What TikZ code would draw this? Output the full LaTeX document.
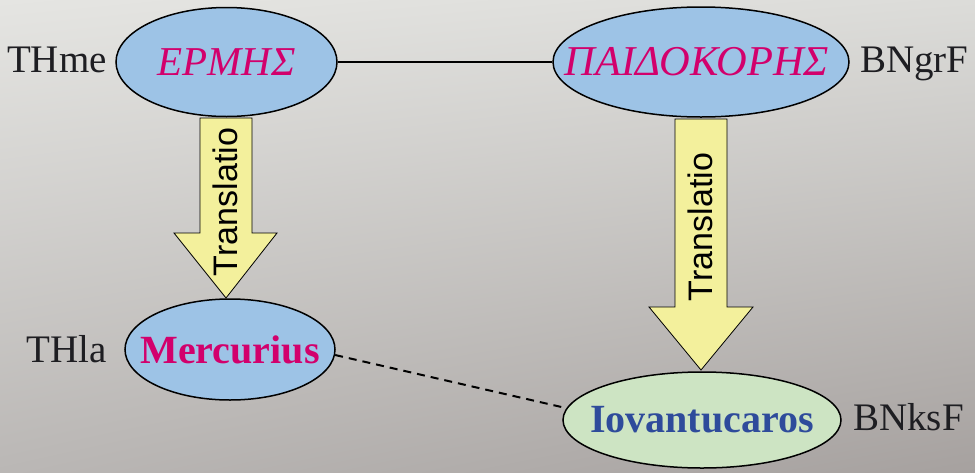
\documentclass[tikz,border=0pt]{standalone}
\usepackage{fontspec}
\setmainfont{Liberation Serif}
\newfontfamily\arrowsans{Liberation Sans}
\usetikzlibrary{shapes.geometric,shadings}
\definecolor{bgUL}{RGB}{229,229,226}
\definecolor{bgUR}{RGB}{220,220,217}
\definecolor{bgLL}{RGB}{186,183,181}
\definecolor{bgLR}{RGB}{166,161,159}
\definecolor{nameblue}{RGB}{157,195,230}
\definecolor{namegreen}{RGB}{205,228,195}
\definecolor{arrowfill}{RGB}{243,240,156}
\definecolor{greekmag}{RGB}{210,0,108}
\definecolor{latinblue}{RGB}{46,75,155}
\definecolor{labelgray}{RGB}{30,30,34}
% centred text that does not widen its ellipse
\newcommand{\inellipse}[1]{\makebox[0pt]{#1}}
\begin{document}
\begin{tikzpicture}[x=1pt,y=-1pt,
  namebox/.style={ellipse, draw=black, line width=1.5pt, inner sep=0pt},
  greekname/.style={namebox, fill=nameblue, text=greekmag,
    font=\fontsize{41}{48}\selectfont\itshape},
  latinname/.style={namebox, font=\fontsize{40}{48}\selectfont\bfseries},
  siglum/.style={text=labelgray, inner sep=0pt, font=\fontsize{39}{46}\selectfont},
  blockarrow/.style={fill=arrowfill, draw=black, line width=0.8pt, line join=miter},
  arrowtext/.style={rotate=90, inner sep=0pt, font=\arrowsans\fontsize{34}{40}\selectfont},
  solidlink/.style={draw=black, line width=2pt},
  dashlink/.style={draw=black, line width=2pt, dashed, dash pattern=on 8pt off 6pt}]
  % background
  \shade[upper left=bgUL, upper right=bgUR, lower left=bgLL, lower right=bgLR]
    (0,0) rectangle (975,472);
  \useasboundingbox (0,0) rectangle (975,472);

  % translation arrows
  \draw[blockarrow] (200,118) -- (252,118) -- (252,233) -- (277,233)
    -- (226,298) -- (174,233) -- (200,233) -- cycle;
  \draw[blockarrow] (675,119) -- (727,119) -- (727,307) -- (753,307)
    -- (701,370) -- (649,307) -- (675,307) -- cycle;
  \node[arrowtext] (tr1) at (225,202) {Translatio};
  \node[arrowtext] (tr2) at (700,227) {Translatio};

  % name ellipses
  \node[greekname, minimum width=221, minimum height=109] (hermes) at (226.5,62)
    {\inellipse{ΕΡΜΗΣ}};
  \node[greekname, font=\fontsize{42.5}{48}\selectfont\itshape,
    minimum width=296, minimum height=110] (paido) at (701,62)
    {\inellipse{\hspace{-8pt}ΠΑΙΔΟΚΟΡΗΣ}};
  \node[latinname, fill=nameblue, text=greekmag, minimum width=210, minimum height=101]
    (merc) at (230,349.5) {\inellipse{Mercurius}};
  \node[latinname, fill=namegreen, text=latinblue, minimum width=278, minimum height=96]
    (iov) at (702,420) {\inellipse{Iovantucaros}};

  % links between names
  \path[solidlink] (hermes) -- (paido);
  \path[dashlink] (merc.-3) -- (iov.175);

  % sigla
  \node[siglum, anchor=base east] (thme) at (107,72) {THme};
  \node[siglum, anchor=base west] (bngrf) at (860,72) {BNgrF};
  \node[siglum, anchor=base east] (thla) at (107,362) {THla};
  \node[siglum, anchor=base west] (bnksf) at (853,430) {BNksF};
\end{tikzpicture}
\end{document}
